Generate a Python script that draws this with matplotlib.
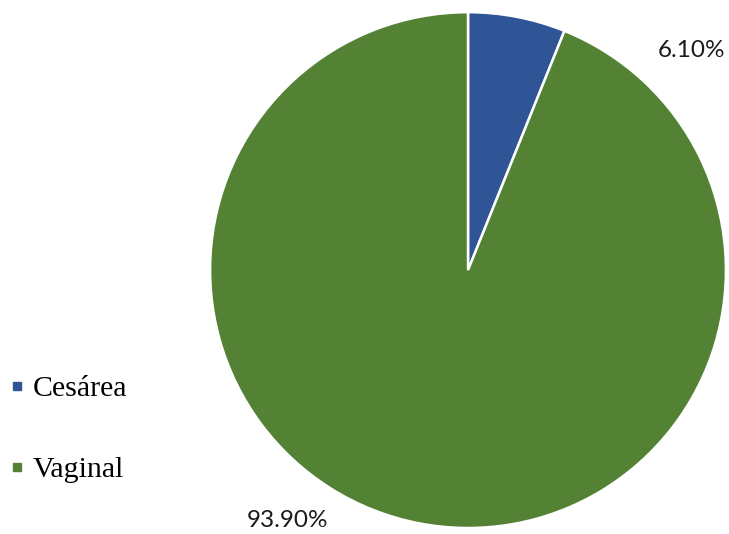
import matplotlib as mpl
mpl.use('Agg')
import matplotlib.pyplot as plt
from matplotlib.lines import Line2D

categorias = ["Cesárea", "Vaginal"]
porcentajes = [6.10, 93.90]
colores = ["#2F5597", "#548235"]
etiquetas = ["6.10%", "93.90%"]
# where the data labels sit, in pie radius units
pos_etiquetas = [(0.865, 0.853), (-0.698, -0.969)]

fig = plt.figure(figsize=(7.29, 5.34), dpi=100)
ax = fig.add_axes([0.288, 0.0112, 0.708, 0.966])

wedges, textos = ax.pie(porcentajes, colors=colores, startangle=90, counterclock=False,
                        labels=etiquetas, radius=1,
                        wedgeprops=dict(edgecolor="white", linewidth=1.8),
                        textprops=dict(family="Lato", fontsize=17.5, color="#1a1a1a"))
for t, (x, y) in zip(textos, pos_etiquetas):
    t.set_position((x, y))
    t.set_ha("center")
    t.set_va("center")

ax.set_xlim(-1, 1)
ax.set_ylim(-1, 1)
ax.set_aspect("equal")
ax.axis("off")

marcas = [Line2D([], [], marker="s", linestyle="none", markersize=6,
                 markerfacecolor=c, markeredgecolor=c) for c in colores]
fig.legend(marcas, categorias, loc="center left", bbox_to_anchor=(10 / 729, 0.196),
           frameon=False, borderpad=0, borderaxespad=0,
           handlelength=0.5, handletextpad=0.25,
           labelspacing=1.8, prop=dict(family="Liberation Serif", size=21.5))

fig.savefig("out.png", dpi=100)
